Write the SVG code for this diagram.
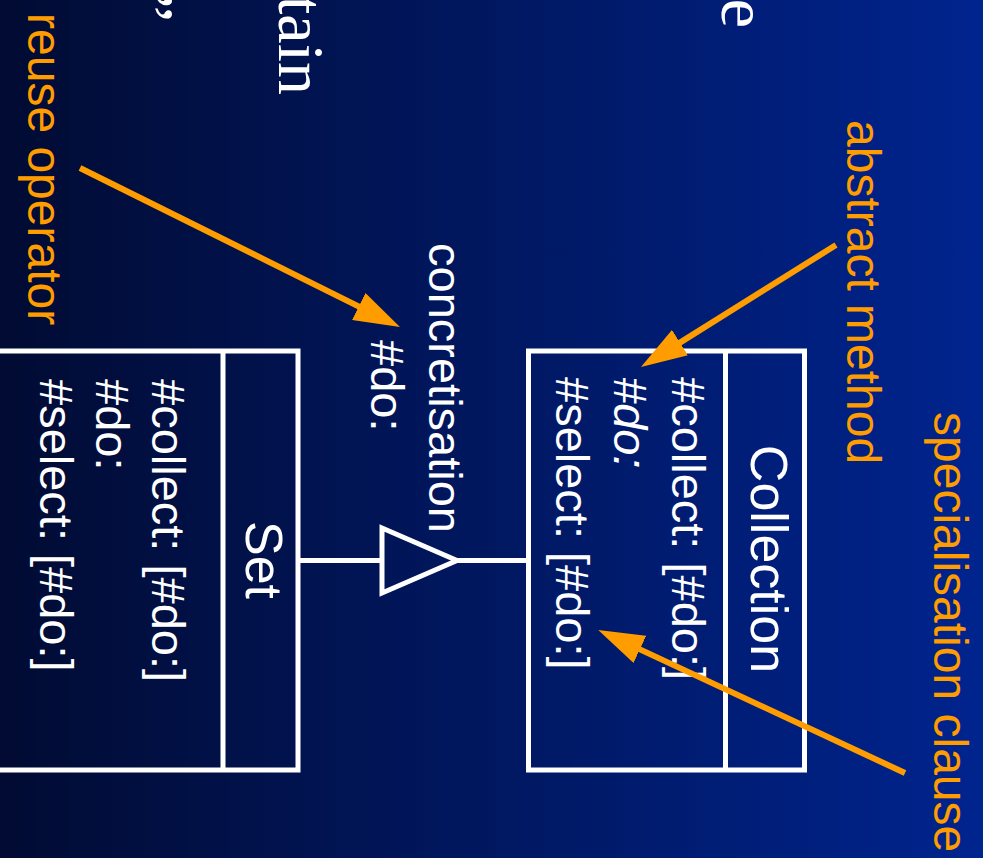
<svg xmlns="http://www.w3.org/2000/svg" width="983" height="858" viewBox="0 0 983 858">
<defs>
<linearGradient id="bg" x1="0" y1="0" x2="1" y2="0">
<stop offset="0" stop-color="#010b33"/>
<stop offset="1" stop-color="#00248e"/>
</linearGradient>
<marker id="ah" markerUnits="userSpaceOnUse" markerWidth="46" markerHeight="30" refX="16" refY="15" orient="auto">
<path d="M0,0 L46,15 L0,30 z" fill="#ff9c00"/>
</marker>
<style>
.box{fill:none;stroke:#fff;stroke-width:5}
.w{fill:#fff;font-family:"Liberation Sans",Arial,sans-serif}
.hd{font-size:52px}
.mb{font-size:47px}
.lbl{fill:#ff9c00;font-family:"Liberation Sans",Arial,sans-serif;font-size:48px}
.ser{fill:#fff;font-family:"Liberation Serif","Times New Roman",serif;font-size:66px}
.ar{stroke:#ff9c00;stroke-width:6;fill:none;marker-end:url(#ah)}
.ln{stroke:#fff;stroke-width:5;fill:none}
</style>
</defs>
<rect x="0" y="0" width="983" height="858" fill="url(#bg)"/>
<g id="fragments">
<text class="ser" text-anchor="end" transform="translate(279,95) rotate(90)">tain</text>
<text class="ser" text-anchor="end" transform="translate(722,28) rotate(90)">e</text>
<text class="ser" font-style="italic" text-anchor="end" transform="translate(129,22) rotate(90)">”</text>
</g>
<g id="Set">
<rect class="box" x="-40" y="351" width="338" height="419"/>
<line class="ln" x1="223" y1="351" x2="223" y2="770"/>
<text class="w hd" text-anchor="middle" transform="translate(246,560) rotate(90)">Set</text>
<text class="w mb" transform="translate(152,379) rotate(90)">#collect: [#do:]</text>
<text class="w mb" transform="translate(96,379) rotate(90)">#do:</text>
<text class="w mb" transform="translate(40,379) rotate(90)">#select: [#do:]</text>
</g>
<g id="Collection">
<rect class="box" x="528.5" y="351" width="276" height="419"/>
<line class="ln" x1="725.5" y1="351" x2="725.5" y2="770"/>
<text class="w hd" text-anchor="middle" transform="translate(751,559) rotate(90)">Collection</text>
<text class="w mb" transform="translate(672,377) rotate(90)">#collect: [#do:]</text>
<text class="w mb" font-style="italic" transform="translate(614,377) rotate(90)">#do:</text>
<text class="w mb" transform="translate(556,377) rotate(90)">#select: [#do:]</text>
</g>
<g id="concretisation">
<text class="w mb" transform="translate(429,243) rotate(90)">concretisation</text>
<text class="w mb" transform="translate(371,340) rotate(90)">#do:</text>
</g>
<g id="labels">
<text class="lbl" transform="translate(28,13) rotate(90)">reuse operator</text>
<text class="lbl" transform="translate(847,120) rotate(90)">abstract method</text>
<text class="lbl" transform="translate(934,412) rotate(90)">specialisation clause</text>
</g>
<g id="connectors">
<line class="ln" x1="298" y1="560.5" x2="382" y2="560.5"/>
<polygon class="ln" points="382,528 457,560.5 382,593"/>
<line class="ln" x1="457" y1="560.5" x2="528" y2="560.5"/>
<line class="ar" x1="80" y1="168" x2="373.1" y2="313.6"/>
<line class="ar" x1="836" y1="245" x2="666.4" y2="351.1"/>
<line class="ar" x1="905" y1="773" x2="625.4" y2="642.6"/>
</g>
</svg>
